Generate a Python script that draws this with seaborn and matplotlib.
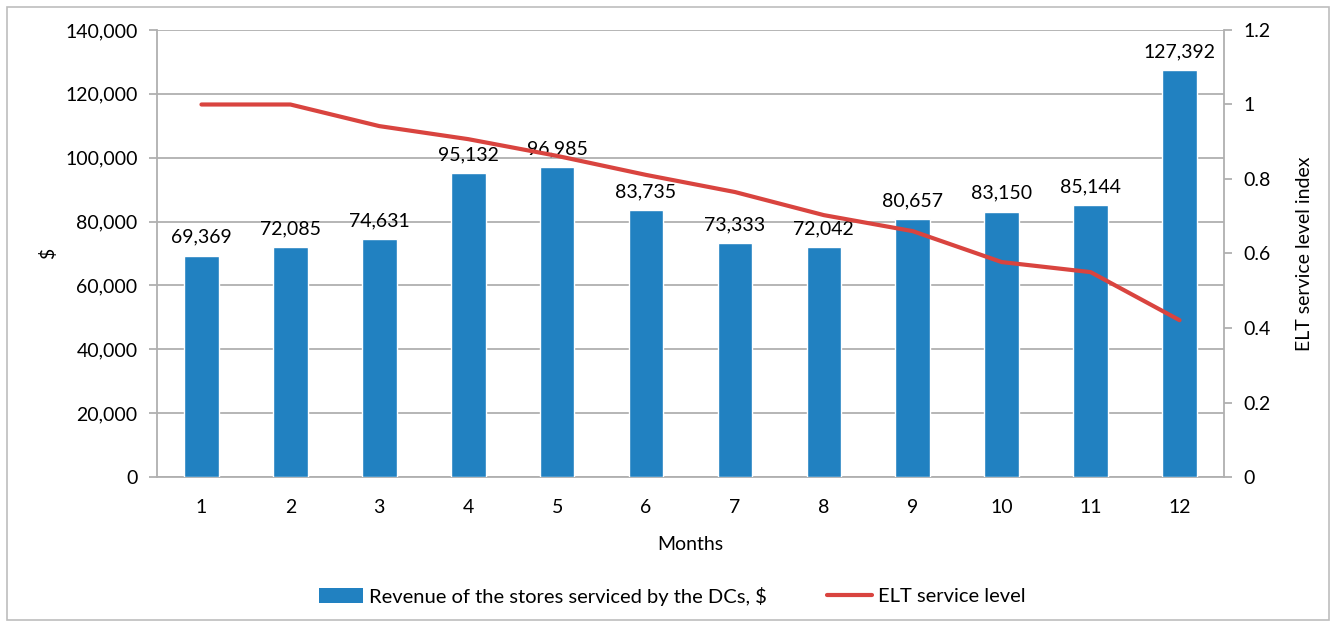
import numpy as np
import pandas as pd
import seaborn as sns
import matplotlib.pyplot as plt
from matplotlib.patches import Rectangle, Patch
from matplotlib.lines import Line2D
from matplotlib.ticker import FuncFormatter, MultipleLocator

months = ["1", "2", "3", "4", "5", "6", "7", "8", "9", "10", "11", "12"]
revenue = [69369, 72085, 74631, 95132, 96985, 83735, 73333, 72042, 80657, 83150, 85144, 127392]
service_level = [1.0, 1.0, 0.942, 0.907, 0.862, 0.811, 0.765, 0.703, 0.660, 0.577, 0.550, 0.421]

bar_color = "#2181c1"
line_color = "#d9443f"
grid_color = "#b0b0b0"
fs = 14

sns.set_theme(style="white")
plt.rcParams["font.family"] = ["Lato", "DejaVu Sans"]
plt.rcParams["text.color"] = "black"
plt.rcParams["axes.labelcolor"] = "black"
plt.rcParams["xtick.labelcolor"] = "black"
plt.rcParams["ytick.labelcolor"] = "black"

df = pd.DataFrame({"month": months, "revenue": revenue, "level": service_level})
df["pos"] = np.arange(len(months))

fig = plt.figure(figsize=(13.35, 6.24), dpi=100)
ax = fig.add_axes([157 / 1335, 1 - 477 / 624, (1224 - 157) / 1335, (477 - 30) / 624])

# BARS
sns.barplot(data=df, x="month", y="revenue", color=bar_color, width=0.39,
            saturation=1, ax=ax, zorder=3)
for p, v in zip(ax.patches, revenue):
    ax.annotate(f"{v:,}", (p.get_x() + p.get_width() / 2, v), xytext=(0, 7),
                textcoords="offset points", ha="center", va="bottom", fontsize=fs)

ax.set_ylim(0, 140000)
ax.set_xlim(-0.5, 11.5)
ax.yaxis.set_major_locator(MultipleLocator(20000))
ax.yaxis.set_major_formatter(FuncFormatter(lambda v, _: f"{int(v):,}"))
ax.grid(axis="y", color=grid_color, linewidth=1.3, zorder=0)
ax.set_axisbelow(True)
ax.set_ylabel("$", fontsize=fs, labelpad=6)
ax.set_xlabel("Months", fontsize=fs, labelpad=14)

# x ticks between categories
ax.set_xticks(np.arange(12))
ax.set_xticklabels(months)
ax.set_xticks(np.arange(-0.5, 12, 1), minor=True)
ax.tick_params(axis="x", which="major", length=0, pad=16, labelsize=fs)
ax.tick_params(axis="x", which="minor", length=6, width=1.3, color=grid_color, direction="out")
ax.tick_params(axis="y", length=6, width=1.3, color=grid_color, direction="out", left=True,
               labelsize=fs, pad=8)
for side in ["top", "right"]:
    ax.spines[side].set_visible(False)
for side in ["left", "bottom"]:
    ax.spines[side].set_color(grid_color)
    ax.spines[side].set_linewidth(1.3)

# LINE
ax2 = ax.twinx()
sns.lineplot(data=df, x="pos", y="level", color=line_color, linewidth=3, ax=ax2, zorder=4)
ax2.set_ylim(0, 1.2)
ax2.set_xlim(-0.5, 11.5)
ax2.yaxis.set_major_locator(MultipleLocator(0.2))
ax2.yaxis.set_major_formatter(FuncFormatter(lambda v, _: "0" if abs(v) < 1e-9 else ("1" if abs(v - 1) < 1e-9 else f"{v:.1f}")))
ax2.set_ylabel("ELT service level index", fontsize=fs, labelpad=18)
ax2.tick_params(axis="y", length=6, width=1.3, color=grid_color, direction="out", right=True,
                labelsize=fs, pad=8)
for side in ["top", "left", "bottom"]:
    ax2.spines[side].set_visible(False)
ax2.spines["right"].set_color(grid_color)
ax2.spines["right"].set_linewidth(1.3)

# LEGEND
handles = [Patch(facecolor=bar_color, edgecolor="none"),
           Line2D([0], [0], color=line_color, linewidth=3)]
labels = ["Revenue of the stores serviced by the DCs, $", "ELT service level"]
fig.legend(handles, labels, loc="center", bbox_to_anchor=(672 / 1335, 1 - 596 / 624),
           ncol=2, frameon=False, fontsize=14.5, columnspacing=3.0, handlelength=2.2,
           handletextpad=0.3)

# outer frame
fig.patches.append(Rectangle((7 / 1335, 4 / 624), 1322 / 1335, 613 / 624, transform=fig.transFigure,
                             fill=False, edgecolor="#bdbdbd", linewidth=1.2))

fig.savefig("out.png", dpi=100)
